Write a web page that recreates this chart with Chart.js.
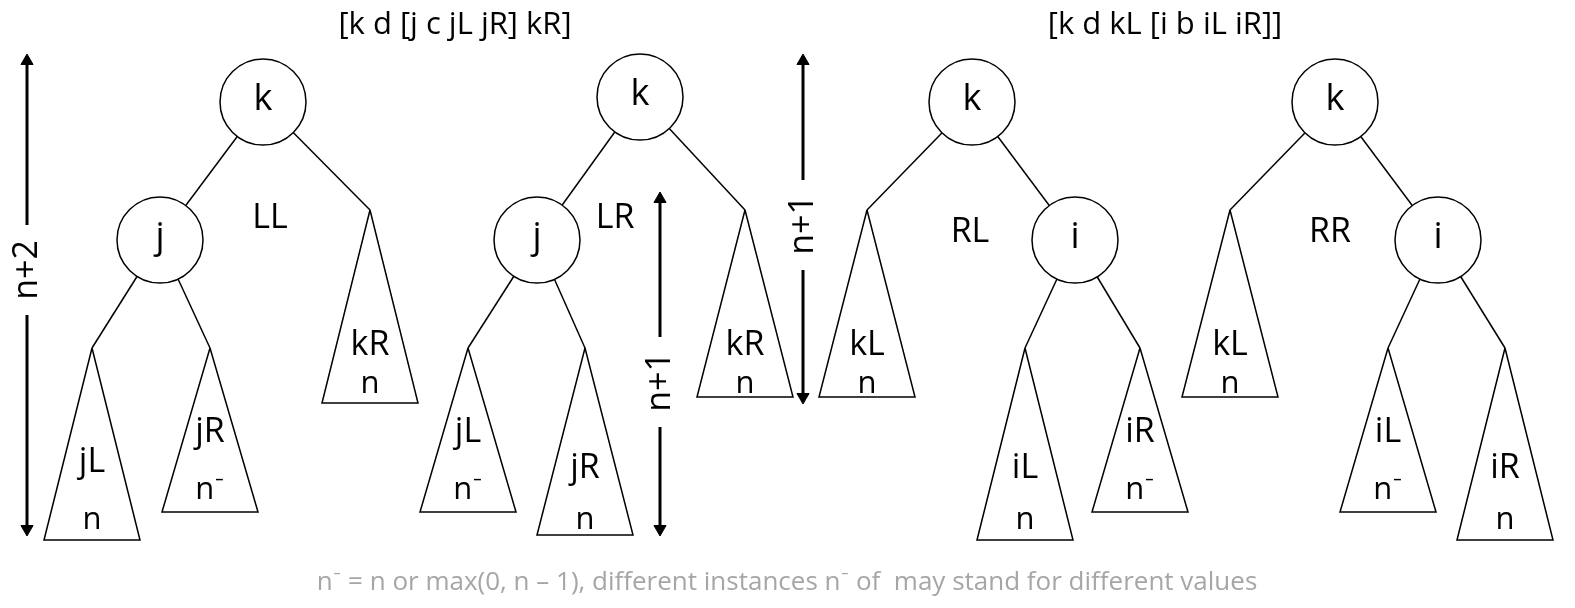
<!DOCTYPE html>
<html><head><meta charset="utf-8">
<script src="https://cdn.jsdelivr.net/npm/chart.js@4"></script>
<style>html,body{margin:0;padding:0;background:#fff}canvas{display:block}</style>
</head><body>
<canvas id="c" width="1575" height="608"></canvas>
<script>
// Diagram data (in diagram coordinates: x 0..1575, y 0..608 top-down)
const nodes = [
  {x:263,y:102,t:'k'},{x:160,y:240,t:'j'},
  {x:640,y:97,t:'k'},{x:537,y:240,t:'j'},
  {x:972,y:102,t:'k'},{x:1075,y:240,t:'i'},
  {x:1335,y:102,t:'k'},{x:1438,y:240,t:'i'}
];
// subtrees: apex x, apex y, base y, label, height label, label y, height y
const subtrees = [
  [92,348,540,'jL','n',462,520],[210,348,512,'jR','n\u207B',432,490],[370,210,403,'kR','n',345,384],
  [468,348,512,'jL','n\u207B',432,490],[585,348,535,'jR','n',468,520],[745,210,397,'kR','n',345,384],
  [867,210,397,'kL','n',345,384],[1025,348,540,'iL','n',468,520],[1140,348,512,'iR','n\u207B',432,490],
  [1230,210,397,'kL','n',345,384],[1388,348,512,'iL','n\u207B',432,490],[1505,348,540,'iR','n',468,520]
];
// edges: [fromX, fromY, toX, toY]
const edges = [
  [263,102,160,240],[263,102,370,210],[160,240,92,348],[160,240,210,348],
  [640,97,537,240],[640,97,745,210],[537,240,468,348],[537,240,585,348],
  [972,102,867,210],[972,102,1075,240],[1075,240,1025,348],[1075,240,1140,348],
  [1335,102,1230,210],[1335,102,1438,240],[1438,240,1388,348],[1438,240,1505,348]
];
const caseLabels = [{x:270,y:218,t:'LL'},{x:615,y:218,t:'LR'},{x:970,y:232,t:'RL'},{x:1330,y:232,t:'RR'}];
const titles = [{x:455,y:25,t:'[k d [j c jL jR] kR]'},{x:1165,y:25,t:'[k d kL [i b iL iR]]'}];
// height arrows: x, top, bottom, text, text center y, gap half
const arrows = [[27,55,535,'n+2',270,45],[660,193,535,'n+1',382,45],[803,55,403,'n+1',225,45]];
const footnote = 'n\u207B = n or max(0, n \u2013 1), different instances n\u207B of  may stand for different values';

const HALF = 48;
const datasets = [];
const line = (pts) => ({type:'line',data:pts,showLine:true,borderColor:'#000',borderWidth:1.5,pointRadius:0,fill:false,order:2,tension:0});
edges.forEach(e => datasets.push(line([{x:e[0],y:e[1]},{x:e[2],y:e[3]}])));
subtrees.forEach(s => datasets.push(line([{x:s[0],y:s[1]},{x:s[0]-HALF,y:s[2]},{x:s[0]+HALF,y:s[2]},{x:s[0],y:s[1]}])));
arrows.forEach(a => {
  datasets.push({...line([{x:a[0],y:a[1]+6},{x:a[0],y:a[4]-a[5]}]),borderWidth:3});
  datasets.push({...line([{x:a[0],y:a[4]+a[5]},{x:a[0],y:a[2]-6}]),borderWidth:3});
  datasets.push({type:'scatter',data:[{x:a[0],y:a[1]+6},{x:a[0],y:a[2]-6}],pointStyle:'triangle',pointRadius:7,
    rotation:[0,180],backgroundColor:'#000',borderColor:'#000',borderWidth:1,order:1});
});
datasets.push({type:'scatter',data:nodes.map(n=>({x:n.x,y:n.y})),pointRadius:43,pointHoverRadius:43,
  backgroundColor:'#fff',borderColor:'#000',borderWidth:1.5,order:0});

const textPlugin = {id:'txt',afterDraw(chart){
  const c=chart.ctx, X=chart.scales.x, Y=chart.scales.y;
  const put=(t,x,y,size,color,rot)=>{c.save();c.fillStyle=color||'#000';c.font=size+'px "Open Sans", Lato, sans-serif';
    c.textAlign='center';c.textBaseline='middle';c.translate(X.getPixelForValue(x),Y.getPixelForValue(y));
    if(rot)c.rotate(rot);c.fillText(t,0,0);c.restore();};
  nodes.forEach(n=>put(n.t,n.x,n.y-2,36));
  subtrees.forEach(s=>{put(s[3],s[0],s[5],34);put(s[4],s[0],s[6],31);});
  caseLabels.forEach(l=>put(l.t,l.x,l.y,34));
  titles.forEach(l=>put(l.t,l.x,l.y,31));
  arrows.forEach(a=>put(a[3],a[0],a[4],34,'#000',-Math.PI/2));
  put(footnote,787,583,26,'#a6a6a6');
}};

new Chart(document.getElementById('c'),{
  type:'scatter',data:{datasets},
  options:{responsive:false,animation:false,events:[],layout:{padding:0,autoPadding:false},
    plugins:{legend:{display:false},tooltip:{enabled:false}},
    scales:{x:{type:'linear',min:0,max:1575,display:false},y:{type:'linear',min:0,max:608,reverse:true,display:false}}},
  plugins:[textPlugin]
});
</script>
</body></html>
